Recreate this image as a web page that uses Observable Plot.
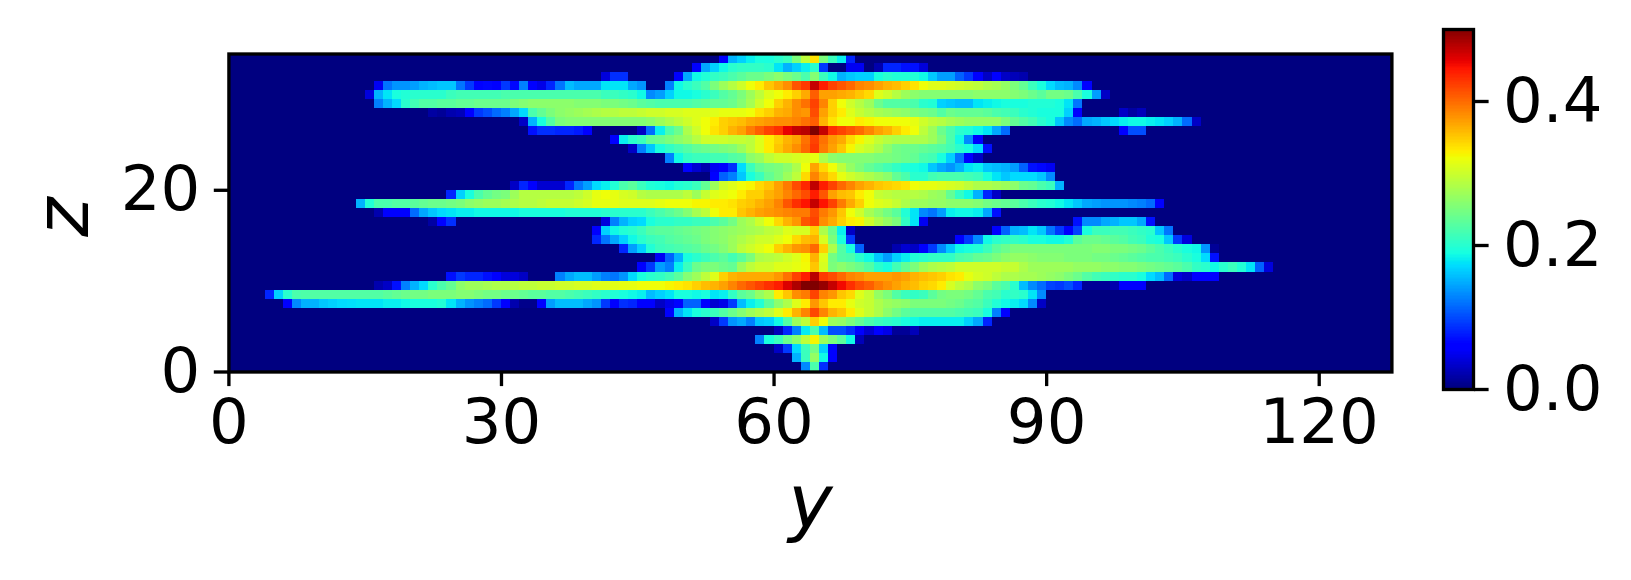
<!DOCTYPE html>
<html><head><meta charset="utf-8">
<script src="https://cdn.jsdelivr.net/npm/d3@7"></script>
<script src="https://cdn.jsdelivr.net/npm/@observablehq/plot@0.6"></script>
<style>
html,body{margin:0;padding:0;background:#fff}
#wrap{position:relative;width:1631px;height:580px;overflow:hidden}
#wrap svg{position:absolute;top:0;font-family:"DejaVu Sans";background:transparent}
</style></head><body><div id="wrap"></div>
<script>
// each row: [first column, values from that column on]; every other column is 0
const z00=[63,[.13,.22,.085]];
const z01=[62,[.15,.21,.265,.185,.055]];
const z02=[60,[.03,.09,.17,.21,.245,.165,.055]];
const z03=[58,[.125,.19,.21,.24,.26,.29,.325,.27,.25,.23,.185,.025]];
const z04=[60,[.025,.08,.125,.178,.22,.155,.1,.1,.085,.06,.035,.055,.045,.01,.01,.025]];
const z05=[53,[.03,.09,.135,.145,.125,.16,.165,.185,.225,.27,.29,.345,.32,.27,.265,.25,.235,.22,.21,.205,.2,.19,.185,.18,.18,.18,.18,.18,.165,.145,.08]];
const z06=[48,[.06,.15,.175,.19,.2,.21,.225,.24,.255,.27,.28,.29,.31,.33,.36,.385,.418,.385,.36,.35,.33,.31,.295,.28,.26,.245,.23,.225,.225,.225,.225,.225,.22,.215,.21,.19,.125,.055]];
const z07=[6,[.06,.13,.15,.15,.16,.165,.17,.172,.175,.175,.175,.18,.18,.185,.19,.19,.19,.195,.175,.15,.135,.125,.115,.09,.06,.02,.005,.005,.06,.14,.155,.155,.155,.145,.135,.09,.06,.085,.08,.06,.055,.03,.045,.06,.11,.11,.06,.035,.045,.09,.155,.18,.195,.23,.26,.28,.31,.33,.375,.35,.33,.33,.315,.3,.295,.28,.27,.265,.26,.25,.25,.25,.25,.245,.24,.23,.225,.21,.195,.185,.18,.17,.13,.03]];
const z08=[4,[.08,.165,.2,.22,.222,.225,.225,.225,.225,.225,.225,.225,.225,.23,.235,.24,.245,.245,.25,.25,.25,.255,.255,.25,.245,.245,.24,.24,.235,.23,.23,.225,.225,.22,.215,.21,.205,.2,.195,.19,.185,.18,.155,.165,.175,.19,.19,.185,.19,.175,.18,.205,.23,.24,.265,.28,.33,.35,.38,.39,.42,.385,.375,.35,.34,.31,.295,.265,.25,.225,.21,.205,.21,.23,.245,.25,.25,.245,.235,.22,.215,.2,.205,.2,.175,.13]];
const z09=[16,[.02,.03,.07,.125,.15,.17,.2,.22,.235,.26,.27,.27,.275,.28,.28,.285,.29,.29,.295,.295,.3,.3,.305,.305,.31,.31,.312,.315,.315,.32,.32,.32,.325,.33,.335,.345,.355,.36,.37,.385,.4,.41,.42,.43,.44,.46,.48,.5,.5,.49,.47,.45,.43,.415,.405,.39,.38,.37,.36,.355,.345,.34,.33,.305,.29,.28,.26,.25,.23,.22,.2,.155,.13,.115,.095,.09,.1,.08,.01,.01,.01,.02,.055,.055,.055]];
const z10=[24,[.07,.09,.08,.08,.07,.06,.04,.04,.03,0,0,0,.125,.145,.155,.155,.14,.125,.12,.135,.17,.19,.2,.205,.215,.23,.255,.27,.29,.31,.345,.36,.365,.365,.365,.365,.375,.395,.42,.44,.475,.425,.415,.4,.385,.38,.37,.37,.37,.375,.37,.36,.355,.35,.345,.335,.33,.315,.305,.3,.29,.28,.28,.275,.275,.27,.265,.26,.25,.24,.225,.215,.21,.205,.2,.2,.19,.17,.155,.115,.04,.03,.055,.055,.055]];
const z11=[45,[.06,.09,.14,.125,.18,.21,.24,.25,.25,.24,.235,.27,.29,.3,.3,.31,.31,.315,.322,.35,.305,.25,.26,.25,.24,.225,.2,.19,.215,.235,.25,.27,.28,.285,.29,.3,.3,.3,.3,.3,.295,.295,.28,.27,.27,.27,.27,.27,.265,.265,.265,.26,.26,.255,.255,.25,.245,.24,.235,.23,.22,.205,.2,.185,.2,.21,.195,.175,.11,.04]];
const z12=[47,[.05,.11,.15,.19,.2,.21,.22,.23,.215,.23,.25,.28,.285,.29,.3,.31,.325,.36,.31,.245,.225,.22,.2,.185,.16,.14,.165,.18,.195,.2,.205,.205,.205,.22,.225,.235,.24,.25,.26,.265,.265,.26,.255,.255,.255,.25,.25,.25,.245,.245,.24,.235,.23,.225,.22,.22,.215,.21,.2,.19,.17,.07]];
const z13=[43,[.08,.14,.165,.195,.21,.215,.22,.225,.23,.24,.245,.255,.27,.29,.3,.31,.32,.345,.36,.375,.38,.4,.345,.28,.225,.19,.11,0,0,0,.02,.035,.03,.055,.09,.13,.16,.185,.19,.195,.21,.23,.24,.25,.25,.25,.25,.25,.25,.25,.25,.25,.255,.255,.25,.25,.245,.24,.23,.22,.21,.2,.19,.185,.135,.01]];
const z14=[40,[.08,.12,.145,.165,.185,.2,.21,.215,.225,.23,.235,.24,.25,.255,.26,.27,.28,.29,.3,.3,.31,.32,.34,.355,.36,.305,.25,.19,.09,0,0,0,0,0,0,0,0,0,0,0,.06,.09,.13,.185,.2,.205,.205,.2,.19,.19,.185,.185,.195,.23,.24,.24,.235,.23,.225,.215,.21,.195,.19,.16,.09,.04]];
const z15=[40,[.06,.165,.185,.195,.2,.21,.225,.23,.23,.235,.24,.245,.25,.255,.26,.265,.27,.275,.28,.29,.295,.31,.305,.305,.345,.28,.24,.18,.03,0,0,0,0,0,0,0,0,0,0,0,0,0,0,0,.06,.11,.15,.155,.175,.16,.12,.09,.06,.095,.19,.21,.21,.215,.215,.21,.205,.2,.16,.12]];
const z16=[22,[.015,.055,.085,0,0,0,0,0,0,0,0,0,0,0,0,0,0,0,0,.04,.125,.15,.165,.17,.19,.2,.2,.205,.205,.21,.21,.22,.23,.245,.27,.28,.3,.32,.34,.36,.375,.41,.42,.38,.365,.345,.33,.325,.3,.28,.265,.25,.205,.175,.05,0,0,0,0,0,0,0,0,0,0,0,0,0,0,0,0,.07,.13,.13,.145,.15,.16,.16,.145,.07]];
const z17=[16,[.02,.06,.055,.055,.115,.145,.16,.17,.175,.18,.18,.185,.185,.185,.185,.185,.19,.19,.19,.19,.19,.195,.195,.195,.195,.2,.2,.2,.2,.2,.21,.22,.23,.24,.255,.275,.29,.32,.33,.33,.35,.36,.37,.375,.38,.385,.39,.39,.415,.39,.375,.35,.32,.3,.275,.26,.245,.23,.195,.175,.13,.12,.14,.18,.185,.185,.18,.145,.07]];
const z18=[14,[.15,.195,.22,.22,.225,.225,.23,.235,.24,.24,.245,.25,.26,.265,.27,.27,.275,.28,.285,.285,.29,.295,.295,.295,.3,.305,.315,.315,.315,.31,.31,.31,.31,.315,.32,.32,.32,.325,.325,.33,.33,.335,.345,.35,.36,.37,.385,.41,.43,.445,.47,.445,.42,.39,.365,.345,.32,.31,.305,.295,.28,.27,.27,.265,.265,.26,.26,.26,.255,.245,.24,.235,.23,.22,.21,.2,.195,.185,.175,.16,.145,.14,.135,.135,.135,.13,.125,.115,.06]];
const z19=[24,[.08,.165,.19,.22,.235,.245,.25,.27,.285,.285,.285,.285,.285,.285,.29,.3,.315,.32,.315,.305,.3,.285,.28,.28,.28,.28,.29,.27,.295,.31,.315,.32,.33,.345,.345,.36,.37,.385,.4,.415,.44,.41,.37,.355,.35,.33,.32,.295,.29,.285,.285,.285,.28,.27,.265,.235,.205,.185,.15,.08,.03]];
const z20=[31,[.03,.08,.055,.035,.035,.035,.08,.12,.14,.17,.18,.195,.22,.23,.21,.195,.19,.185,.195,.2,.21,.235,.27,.3,.31,.32,.325,.34,.35,.37,.39,.415,.435,.472,.44,.42,.4,.385,.37,.36,.35,.345,.34,.335,.32,.315,.315,.31,.305,.3,.29,.28,.28,.275,.27,.26,.24,.235,.22,.21,.15]];
const z21=[53,[.06,.11,.125,.16,.19,.21,.235,.25,.27,.29,.34,.385,.36,.34,.315,.3,.29,.28,.27,.26,.235,.22,.2,.2,.215,.22,.22,.22,.215,.21,.19,.175,.16,.17,.17,.17,.16,.13]];
const z22=[50,[.06,.035,.02,.05,.055,.085,.17,.21,.235,.245,.25,.26,.28,.32,.368,.34,.32,.29,.265,.25,.235,.225,.215,.205,.195,.19,.185,.16,.145,.135,.15,.175,.18,.16,.155,.15,.14,.11,.07,.065,.05]];
const z23=[48,[.125,.185,.205,.21,.21,.215,.215,.225,.23,.26,.27,.29,.3,.3,.305,.31,.315,.28,.26,.255,.255,.255,.255,.25,.25,.245,.24,.235,.22,.215,.19,.165,.12,.06,.03]];
const z24=[44,[.03,.125,.16,.19,.205,.215,.225,.235,.24,.245,.25,.255,.27,.29,.31,.33,.35,.365,.38,.4,.425,.39,.37,.35,.325,.305,.295,.28,.26,.245,.24,.24,.235,.23,.225,.215,.2,.19,.17,.07]];
const z25=[42,[.06,.18,.2,.21,.235,.24,.25,.26,.27,.285,.3,.3,.3,.295,.295,.29,.31,.33,.345,.36,.37,.395,.42,.395,.375,.365,.34,.325,.31,.295,.285,.28,.28,.28,.28,.27,.25,.22,.185,.13,.06]];
const z26=[33,[.07,.085,.085,.08,.08,.075,.055,0,0,0,0,0,.03,.115,.18,.22,.24,.28,.3,.32,.335,.345,.36,.37,.39,.405,.42,.43,.455,.47,.475,.5,.47,.43,.42,.41,.4,.385,.37,.36,.345,.33,.32,.29,.27,.24,.22,.2,.195,.185,.175,.145,.115,0,0,0,0,0,0,0,0,0,0,0,0,.055,.1,.1]];
const z27=[32,[.03,.15,.19,.225,.25,.255,.255,.255,.255,.255,.255,.255,.255,.255,.26,.27,.28,.29,.3,.31,.32,.33,.345,.35,.355,.365,.37,.375,.38,.38,.385,.395,.405,.36,.335,.32,.32,.33,.325,.32,.32,.32,.32,.315,.3,.29,.285,.275,.27,.265,.265,.265,.265,.25,.235,.225,.215,.2,.19,.16,.13,.115,.145,.15,.16,.17,.18,.185,.185,.18,.175,.165,.15,.115,.03]];
const z28=[22,[.015,.01,.02,.025,.055,.09,.1,.115,.125,.145,.17,.22,.235,.25,.26,.265,.27,.275,.28,.285,.285,.29,.29,.295,.3,.3,.305,.305,.31,.31,.31,.31,.315,.315,.315,.32,.335,.345,.36,.365,.38,.375,.415,.37,.345,.33,.31,.295,.285,.275,.27,.265,.26,.25,.245,.24,.225,.24,.235,.235,.235,.23,.22,.215,.21,.2,.195,.19,.19,.19,.165,.06,0,0,0,0,.03,.015,.025]];
const z29=[16,[.125,.15,.17,.2,.215,.225,.225,.23,.23,.235,.235,.24,.24,.24,.24,.25,.255,.26,.26,.26,.26,.26,.255,.255,.255,.25,.25,.245,.24,.23,.225,.22,.22,.22,.22,.225,.23,.235,.235,.24,.255,.275,.3,.32,.345,.36,.38,.395,.42,.385,.345,.32,.3,.285,.27,.24,.225,.225,.225,.22,.2,.195,.165,.16,.155,.155,.175,.18,.185,.19,.19,.19,.195,.195,.195,.19,.175,.12]];
const z30=[15,[.04,.15,.175,.19,.195,.2,.2,.2,.2,.21,.215,.215,.215,.215,.215,.22,.22,.22,.22,.22,.22,.22,.22,.22,.22,.22,.21,.21,.205,.2,.185,.13,.14,.165,.185,.185,.19,.2,.21,.225,.235,.25,.27,.29,.31,.32,.33,.345,.365,.405,.37,.37,.365,.36,.35,.34,.31,.3,.285,.27,.26,.255,.255,.255,.255,.255,.255,.26,.26,.26,.26,.255,.25,.24,.23,.245,.245,.24,.22,.19,.14,.03]];
const z31=[16,[.05,.12,.135,.135,.14,.15,.155,.16,.16,.12,.09,.055,.065,.055,.09,.065,.125,.055,.045,.08,.12,.155,.145,.145,.145,.175,.175,.175,.145,.135,0,0,.125,.185,.2,.21,.225,.25,.27,.285,.3,.32,.33,.35,.365,.38,.41,.425,.47,.44,.42,.41,.4,.385,.38,.37,.36,.355,.345,.335,.32,.31,.31,.305,.3,.295,.29,.28,.275,.265,.25,.235,.21,.19,.17,.155,.15,.13,.06]];
const z32=[41,[.04,.085,.085,0,0,0,0,0,.06,.145,.185,.195,.205,.21,.22,.23,.24,.24,.25,.26,.25,.24,.22,.255,.21,.185,.15,.16,.165,.165,.19,.2,.195,.195,.195,.185,.16,.14,.14,.11,.09,.06,.03,.055,.03,.025,.02]];
const z33=[51,[.06,.145,.165,.185,.2,.205,.205,.205,.2,.175,.15,.165,.18,.2,.09,0,0,.05,.05,0,.02,.08,.08,.07,.07,.04]];
const z34=[54,[.06,.15,.165,.18,.19,.19,.2,.21,.25,.29,.335,.25,.21,.18,.08]];
const rows=[z00,z01,z02,z03,z04,z05,z06,z07,z08,z09,z10,z11,z12,z13,z14,z15,z16,z17,z18,z19,z20,z21,z22,z23,z24,z25,z26,z27,z28,z29,z30,z31,z32,z33,z34];
const nCols=128;
const xTicks=[0,30,60,90,120];
const yTicks=[0,20];
const barTicks=[0,.2,.4];
const vMax=.5;

const cells=[];
rows.forEach(([start,vals],z)=>{
  for(let col=0;col<nCols;col++){
    const v=col>=start&&col-start<vals.length?vals[col-start]:0;
    cells.push({col,z,v});
  }
});
// matplotlib "jet"
const seg=(xs,ys)=>d3.scaleLinear().domain(xs).range(ys).clamp(true);
const jr=seg([0,.35,.66,.89,1],[0,0,1,1,.5]);
const jg=seg([0,.125,.375,.64,.91,1],[0,0,1,1,0,0]);
const jb=seg([0,.11,.34,.65,1],[.5,1,1,0,0]);
const jet=t=>`rgb(${Math.round(jr(t)*255)},${Math.round(jg(t)*255)},${Math.round(jb(t)*255)})`;
const colorScale={type:"linear",domain:[0,vMax],interpolate:jet,clamp:true};

const FS=62.5, LW=3.33, TICK=14.6;
const main=Plot.plot({
  width:1631,height:580,
  marginLeft:228.4,marginRight:239.6,marginTop:53.5,marginBottom:208.5,
  style:{background:"transparent",fontFamily:"DejaVu Sans",color:"#000"},
  x:{domain:[0,nCols]},
  y:{domain:[0,rows.length]},
  color:colorScale,
  marks:[
    Plot.rect(cells,{x1:"col",x2:d=>d.col+1,y1:"z",y2:d=>d.z+1,fill:"v",shapeRendering:"crispEdges"}),
    Plot.frame({stroke:"#000",strokeWidth:LW}),
    Plot.axisX({ticks:xTicks,tickFormat:d=>String(d),tickSize:TICK,strokeWidth:LW,tickPadding:12,fontSize:FS,label:null,anchor:"bottom",color:"#000",textStroke:"none"}),
    Plot.axisY({ticks:yTicks,tickFormat:d=>String(d),tickSize:TICK,strokeWidth:LW,tickPadding:14,fontSize:FS,label:null,anchor:"left",color:"#000"}),
    Plot.text(["y"],{text:d=>d,frameAnchor:"bottom",dy:132,fontSize:75,fontStyle:"italic",fill:"#000",lineAnchor:"middle"}),
    Plot.text(["z"],{text:d=>d,frameAnchor:"left",textAnchor:"middle",dx:-165,dy:4,rotate:-90,fontSize:75,fontStyle:"italic",fill:"#000",lineAnchor:"middle"})
  ]
});
main.style.left="0px";
document.getElementById("wrap").appendChild(main);

const levels=d3.range(256).map(i=>i*vMax/256);
const bar=Plot.plot({
  width:231,height:580,
  marginLeft:43,marginRight:158,marginTop:29,marginBottom:191,
  style:{background:"transparent",fontFamily:"DejaVu Sans",color:"#000"},
  y:{domain:[0,vMax]},
  color:colorScale,
  marks:[
    Plot.rect(levels,{y1:d=>d,y2:d=>d+vMax/256,fill:d=>d,shapeRendering:"crispEdges"}),
    Plot.frame({stroke:"#000",strokeWidth:LW}),
    Plot.axisY({ticks:barTicks,tickFormat:d3.format(".1f"),tickSize:TICK,strokeWidth:LW,tickPadding:15,fontSize:FS,label:null,anchor:"right",color:"#000"})
  ]
});
bar.style.left="1400px";
document.getElementById("wrap").appendChild(bar);
</script></body></html>
